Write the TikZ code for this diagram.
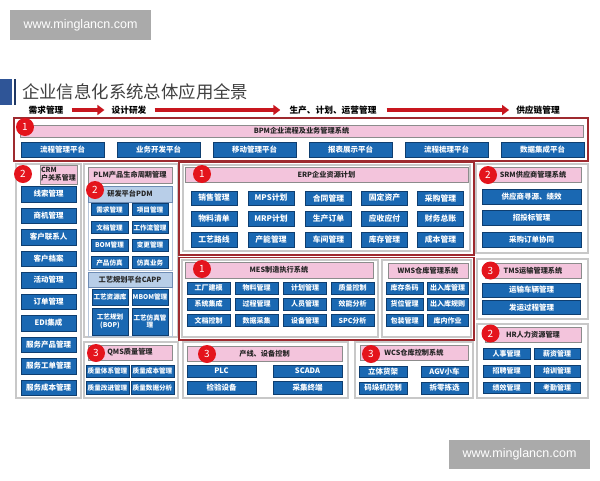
\documentclass[tikz,border=0pt]{standalone}
\usepackage{fontspec}
\setmainfont{Noto Sans CJK SC}
\newfontfamily\wwwfont{Liberation Sans}
\usetikzlibrary{arrows.meta}
\definecolor{boxblue}{RGB}{26,104,178}
\definecolor{boxedge}{RGB}{14,62,112}
\definecolor{headpink}{RGB}{243,196,220}
\definecolor{headedge}{RGB}{140,140,140}
\definecolor{lightblue}{RGB}{184,206,232}
\definecolor{lightblueedge}{RGB}{110,140,180}
\definecolor{numred}{RGB}{228,20,28}
\definecolor{framered}{RGB}{158,42,47}
\definecolor{framegray}{RGB}{200,200,200}
\definecolor{arrowred}{RGB}{200,22,30}
\definecolor{titleblue}{RGB}{47,85,151}
\definecolor{titledark}{RGB}{31,56,100}
\definecolor{titletext}{RGB}{64,64,64}
\definecolor{wmgray}{RGB}{170,170,170}
\begin{document}
\begin{tikzpicture}[x=1pt,y=-1pt,
  sz/.style 2 args={minimum width=#1pt,minimum height=#2pt},
  bluebox/.style={draw=boxedge,line width=0.5pt,fill=boxblue,text=white,inner sep=0pt,align=center,font=\bfseries\fontsize{7.5}{8}\selectfont},
  fsmall/.style={font=\bfseries\fontsize{6.6}{7.4}\selectfont},
  fmid/.style={font=\bfseries\fontsize{7}{8}\selectfont},
  ferp/.style={font=\bfseries\fontsize{7.8}{8}\selectfont},
  pinkhead/.style={draw=headedge,line width=0.6pt,fill=headpink,text=black!85,inner sep=0pt,align=center,font=\bfseries\fontsize{7.2}{7.6}\selectfont},
  bluehead/.style={draw=lightblueedge,line width=0.6pt,fill=lightblue,text=black!85,inner sep=0pt,align=center,font=\bfseries\fontsize{7.2}{7.6}\selectfont},
  num/.style={circle,fill=numred,text=white,minimum size=18pt,inner sep=0pt,font=\fontsize{10}{10}\selectfont},
  redframe/.style={draw=framered,line width=1.6pt},
  grayframe/.style={draw=framegray,line width=1.2pt},
  pdmframe/.style={draw=lightblueedge!50,line width=0.6pt},
  steptext/.style={inner sep=0pt,font=\bfseries\fontsize{8.7}{9}\selectfont},
  redarrow/.style={draw=arrowred,line width=3.5pt,-{Triangle[length=7pt,width=10pt]}},
  wmbox/.style={fill=wmgray,text=white,inner sep=0pt,font=\wwwfont\fontsize{12.5}{13}\selectfont}
]
\useasboundingbox (0,0) rectangle (600,480);
\fill[white] (0,0) rectangle (600,480);

% watermarks
\node[wmbox,sz={141}{30}] (wm1) at (80.5,25) {www.minglancn.com};
\node[wmbox,sz={141}{29}] (wm2) at (519.5,454.5) {www.minglancn.com};

% title
\fill[titleblue] (0,79) rectangle (12,105);
\fill[titledark] (14,79) rectangle (16,105);
\node[anchor=west,inner sep=0pt,text=titletext,font=\fontsize{17.4}{18}\selectfont] (title) at (22,92) {企业信息化系统总体应用全景};

% stage row
\node[steptext] (s1) at (46,110) {需求管理};
\node[steptext] (s2) at (129,110) {设计研发};
\node[steptext] (s3) at (333,110) {生产、计划、运营管理};
\node[steptext] (s4) at (538,110) {供应链管理};
\draw[redarrow] ([xshift=8pt]s1.east) -- ([xshift=-7pt]s2.west);
\draw[redarrow] ([xshift=8pt]s2.east) -- ([xshift=-9pt]s3.west);
\draw[redarrow] ([xshift=10pt]s3.east) -- ([xshift=-7pt]s4.west);

% BPM
\draw[redframe] (14,118) rectangle (588,161);
\node[pinkhead,sz={563}{12}] (bpm) at (301.5,131) {BPM企业流程及业务管理系统};
\node[num] (n1a) at (25,127) {1};
\node[bluebox,sz={83}{15}] (p1) at (62.5,149.5) {流程管理平台};
\node[bluebox,sz={83}{15}] (p2) at (158.5,149.5) {业务开发平台};
\node[bluebox,sz={83}{15}] (p3) at (254.5,149.5) {移动管理平台};
\node[bluebox,sz={83}{15}] (p4) at (350.5,149.5) {报表展示平台};
\node[bluebox,sz={83}{15}] (p5) at (446.5,149.5) {流程梳理平台};
\node[bluebox,sz={83}{15}] (p6) at (542.5,149.5) {数据集成平台};

% CRM
\draw[grayframe] (16,164) rectangle (81,398);
\node[pinkhead,sz={37}{19},align=left,font=\bfseries\fontsize{7}{7.6}\selectfont] (crm) at (58.5,174.5) {CRM\\户关系管理};
\node[num] (n2a) at (23,174) {2};
\node[bluebox,sz={55}{15.5}] (c1) at (48.5,194) {线索管理};
\node[bluebox,sz={55}{15.5}] (c2) at (48.5,215.5) {商机管理};
\node[bluebox,sz={55}{15.5}] (c3) at (48.5,237) {客户联系人};
\node[bluebox,sz={55}{15.5}] (c4) at (48.5,258.5) {客户档案};
\node[bluebox,sz={55}{15.5}] (c5) at (48.5,280) {活动管理};
\node[bluebox,sz={55}{15.5}] (c6) at (48.5,301.5) {订单管理};
\node[bluebox,sz={55}{15.5}] (c7) at (48.5,323) {EDI集成};
\node[bluebox,sz={55}{15.5}] (c8) at (48.5,344.5) {服务产品管理};
\node[bluebox,sz={55}{15.5}] (c9) at (48.5,366) {服务工单管理};
\node[bluebox,sz={55}{15.5}] (c10) at (48.5,387.5) {服务成本管理};

% PLM
\draw[grayframe] (84,164) rectangle (178,337);
\node[pinkhead,sz={84}{16}] (plm) at (130,175) {PLM产品生命周期管理};
\draw[pdmframe] (88,186) rectangle (172,270);
\node[bluehead,sz={84}{16}] (pdm) at (130,194) {研发平台PDM};
\node[num] (n2b) at (95,190) {2};
\node[bluebox,fsmall,sz={37}{12}] (d11) at (109.5,209.5) {需求管理};
\node[bluebox,fsmall,sz={36}{12}] (d12) at (150,209.5) {项目管理};
\node[bluebox,fsmall,sz={37}{12}] (d21) at (109.5,227.5) {文档管理};
\node[bluebox,fsmall,sz={36}{12}] (d22) at (150,227.5) {工作流管理};
\node[bluebox,fsmall,sz={37}{12}] (d31) at (109.5,245) {BOM管理};
\node[bluebox,fsmall,sz={36}{12}] (d32) at (150,245) {变更管理};
\node[bluebox,fsmall,sz={37}{12}] (d41) at (109.5,262.5) {产品仿真};
\node[bluebox,fsmall,sz={36}{12}] (d42) at (150,262.5) {仿真业务};
\draw[pdmframe] (88,272) rectangle (172,336);
\node[bluehead,sz={84}{15}] (capp) at (130,279.5) {工艺规划平台CAPP};
\node[bluebox,fsmall,sz={36}{16}] (a11) at (110,297) {工艺资源库};
\node[bluebox,fsmall,sz={36}{16}] (a12) at (150,297) {MBOM管理};
\node[bluebox,fsmall,sz={36}{27}] (a21) at (110,321.5) {工艺规划\\(BOP)};
\node[bluebox,fsmall,sz={36}{27}] (a22) at (150,321.5) {工艺仿真管\\理};

% QMS
\draw[grayframe] (84,342) rectangle (178,398);
\node[pinkhead,sz={84}{15}] (qms) at (130,352.5) {QMS质量管理};
\node[num] (n3a) at (96,353) {3};
\node[bluebox,fsmall,sz={43}{12.5}] (q11) at (107.5,371) {质量体系管理};
\node[bluebox,fsmall,sz={43}{12.5}] (q12) at (152.5,371) {质量成本管理};
\node[bluebox,fsmall,sz={43}{12.5}] (q21) at (107.5,387.5) {质量改进管理};
\node[bluebox,fsmall,sz={43}{12.5}] (q22) at (152.5,387.5) {质量数据分析};

% ERP
\draw[redframe] (179,162) rectangle (474,255);
\draw[grayframe] (183,165) rectangle (470,251);
\node[pinkhead,sz={283}{15}] (erp) at (326.5,174.5) {ERP企业资源计划};
\node[num] (n1b) at (202,174) {1};
\node[bluebox,ferp,sz={46}{14.5}] (e11) at (214,198) {销售管理};
\node[bluebox,ferp,sz={46}{14.5}] (e12) at (271,198) {MPS计划};
\node[bluebox,ferp,sz={46}{14.5}] (e13) at (328.5,198) {合同管理};
\node[bluebox,ferp,sz={46}{14.5}] (e14) at (384.5,198) {固定资产};
\node[bluebox,ferp,sz={46}{14.5}] (e15) at (440.5,198) {采购管理};
\node[bluebox,ferp,sz={46}{14.5}] (e21) at (214,218.5) {物料清单};
\node[bluebox,ferp,sz={46}{14.5}] (e22) at (271,218.5) {MRP计划};
\node[bluebox,ferp,sz={46}{14.5}] (e23) at (328.5,218.5) {生产订单};
\node[bluebox,ferp,sz={46}{14.5}] (e24) at (384.5,218.5) {应收应付};
\node[bluebox,ferp,sz={46}{14.5}] (e25) at (440.5,218.5) {财务总账};
\node[bluebox,ferp,sz={46}{14.5}] (e31) at (214,239.5) {工艺路线};
\node[bluebox,ferp,sz={46}{14.5}] (e32) at (271,239.5) {产能管理};
\node[bluebox,ferp,sz={46}{14.5}] (e33) at (328.5,239.5) {车间管理};
\node[bluebox,ferp,sz={46}{14.5}] (e34) at (384.5,239.5) {库存管理};
\node[bluebox,ferp,sz={46}{14.5}] (e35) at (440.5,239.5) {成本管理};

% MES / WMS
\draw[redframe] (179,257.5) rectangle (474,340);
\draw[grayframe] (182,260) rectangle (378,337);
\draw[grayframe] (382,260) rectangle (471,337);
\node[pinkhead,sz={188}{16}] (mes) at (279,270) {MES制造执行系统};
\node[num] (n1c) at (202,269) {1};
\node[bluebox,fmid,sz={43}{12}] (m11) at (208.5,288) {工厂建模};
\node[bluebox,fmid,sz={43}{12}] (m12) at (256.5,288) {物料管理};
\node[bluebox,fmid,sz={43}{12}] (m13) at (305,288) {计划管理};
\node[bluebox,fmid,sz={43}{12}] (m14) at (352.5,288) {质量控制};
\node[bluebox,fmid,sz={43}{12}] (m21) at (208.5,304) {系统集成};
\node[bluebox,fmid,sz={43}{12}] (m22) at (256.5,304) {过程管理};
\node[bluebox,fmid,sz={43}{12}] (m23) at (305,304) {人员管理};
\node[bluebox,fmid,sz={43}{12}] (m24) at (352.5,304) {效能分析};
\node[bluebox,fmid,sz={43}{12}] (m31) at (208.5,320.5) {文档控制};
\node[bluebox,fmid,sz={43}{12}] (m32) at (256.5,320.5) {数据采集};
\node[bluebox,fmid,sz={43}{12}] (m33) at (305,320.5) {设备管理};
\node[bluebox,fmid,sz={43}{12}] (m34) at (352.5,320.5) {SPC分析};
\node[pinkhead,sz={80}{15}] (wms) at (428,270.5) {WMS仓库管理系统};
\node[bluebox,fmid,sz={37}{12}] (k11) at (404.5,288) {库存条码};
\node[bluebox,fmid,sz={41}{12}] (k12) at (447.5,288) {出入库管理};
\node[bluebox,fmid,sz={37}{12}] (k21) at (404.5,304) {货位管理};
\node[bluebox,fmid,sz={41}{12}] (k22) at (447.5,304) {出入库规则};
\node[bluebox,fmid,sz={37}{12}] (k31) at (404.5,320.5) {包装管理};
\node[bluebox,fmid,sz={41}{12}] (k32) at (447.5,320.5) {库内作业};

% production line
\draw[grayframe] (183,342) rectangle (348,398);
\node[pinkhead,sz={155}{15}] (line) at (264.5,354) {产线、设备控制};
\node[num] (n3b) at (207,354) {3};
\node[bluebox,sz={69}{12.5}] (l11) at (221.5,371) {PLC};
\node[bluebox,sz={69}{12.5}] (l12) at (307.5,371) {SCADA};
\node[bluebox,sz={69}{12.5}] (l21) at (221.5,387.5) {检验设备};
\node[bluebox,sz={69}{12.5}] (l22) at (307.5,387.5) {采集终端};

% WCS
\draw[grayframe] (355,342) rectangle (473,398);
\node[pinkhead,sz={108}{15}] (wcs) at (414,352.5) {WCS仓库控制系统};
\node[num] (n3c) at (371,354) {3};
\node[bluebox,sz={48}{11.5}] (w11) at (383,371.5) {立体货架};
\node[bluebox,sz={47}{11.5}] (w12) at (444.5,371.5) {AGV小车};
\node[bluebox,sz={48}{11.5}] (w21) at (383,388) {码垛机控制};
\node[bluebox,sz={47}{11.5}] (w22) at (444.5,388) {拆零拣选};

% SRM
\draw[grayframe] (476,164) rectangle (588,253);
\node[pinkhead,sz={96}{15}] (srm) at (533,174.5) {SRM供应商管理系统};
\node[num] (n2c) at (488,175) {2};
\node[bluebox,sz={99}{15}] (r1) at (531.5,197) {供应商寻源、绩效};
\node[bluebox,sz={99}{15}] (r2) at (531.5,217.5) {招投标管理};
\node[bluebox,sz={99}{15}] (r3) at (531.5,239.5) {采购订单协同};

% TMS
\draw[grayframe] (477,259) rectangle (588,319);
\node[pinkhead,sz={96}{15}] (tms) at (533,270.5) {TMS运输管理系统};
\node[num] (n3d) at (490.5,270.5) {3};
\node[bluebox,sz={98}{14}] (t1) at (531.5,290) {运输车辆管理};
\node[bluebox,sz={98}{14}] (t2) at (531.5,307.5) {发运过程管理};

% HR
\draw[grayframe] (477,324) rectangle (588,398);
\node[pinkhead,sz={96}{15}] (hr) at (533,334.5) {HR人力资源管理};
\node[num] (n2d) at (490.5,333.5) {2};
\node[bluebox,fmid,sz={47}{11.5}] (h11) at (506.5,353.5) {人事管理};
\node[bluebox,fmid,sz={46}{11.5}] (h12) at (557,353.5) {薪资管理};
\node[bluebox,fmid,sz={47}{11.5}] (h21) at (506.5,371) {招聘管理};
\node[bluebox,fmid,sz={46}{11.5}] (h22) at (557,371) {培训管理};
\node[bluebox,fmid,sz={47}{11.5}] (h31) at (506.5,387.5) {绩效管理};
\node[bluebox,fmid,sz={46}{11.5}] (h32) at (557,387.5) {考勤管理};
\end{tikzpicture}
\end{document}
